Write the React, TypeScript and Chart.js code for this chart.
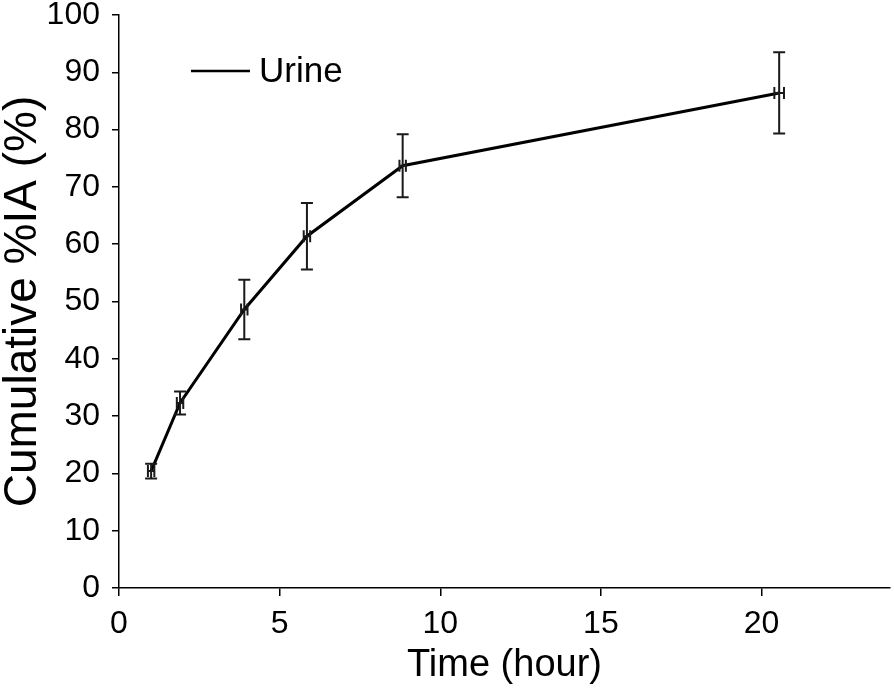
import React, { useEffect, useRef } from "react";
import { Chart, registerables } from "chart.js";

Chart.register(...registerables);

const timeHours = [1.0, 1.9, 3.9, 5.85, 8.83, 20.55];
const cumulativeIA = [20.4, 32.3, 48.6, 61.4, 73.7, 86.4];
const yError = [1.3, 2.0, 5.2, 5.8, 5.5, 7.1];
const xError = [0.1, 0.1, 0.1, 0.1, 0.1, 0.15];
const seriesLabel = "Urine";
const xTitle = "Time (hour)";
const yTitle = "Cumulative %IA (%)";

const FONT = "'Liberation Sans', Arial, sans-serif";

const errorBarPlugin = {
  id: "errorBars",
  afterDatasetsDraw(chart: any) {
    const ctx = chart.ctx;
    const xs = chart.scales.x;
    const ys = chart.scales.y;
    ctx.save();
    ctx.strokeStyle = "#1a1a1a";
    ctx.lineWidth = 2;
    const cap = 6;
    for (let i = 0; i < timeHours.length; i++) {
      const px = xs.getPixelForValue(timeHours[i]);
      const py = ys.getPixelForValue(cumulativeIA[i]);
      const top = ys.getPixelForValue(cumulativeIA[i] + yError[i]);
      const bot = ys.getPixelForValue(cumulativeIA[i] - yError[i]);
      const left = xs.getPixelForValue(timeHours[i] - xError[i]);
      const right = xs.getPixelForValue(timeHours[i] + xError[i]);
      ctx.beginPath();
      ctx.moveTo(px, top);
      ctx.lineTo(px, bot);
      ctx.moveTo(px - cap, top);
      ctx.lineTo(px + cap, top);
      ctx.moveTo(px - cap, bot);
      ctx.lineTo(px + cap, bot);
      ctx.moveTo(left, py);
      ctx.lineTo(right, py);
      ctx.moveTo(left, py - cap);
      ctx.lineTo(left, py + cap);
      ctx.moveTo(right, py - cap);
      ctx.lineTo(right, py + cap);
      ctx.stroke();
    }
    ctx.restore();
  },
};

const legendPlugin = {
  id: "innerLegend",
  afterDraw(chart: any) {
    const ctx = chart.ctx;
    ctx.save();
    ctx.strokeStyle = "#000";
    ctx.lineWidth = 2.5;
    ctx.beginPath();
    ctx.moveTo(191, 71);
    ctx.lineTo(250, 71);
    ctx.stroke();
    ctx.fillStyle = "#000";
    ctx.font = `35px ${FONT}`;
    ctx.textAlign = "left";
    ctx.textBaseline = "alphabetic";
    ctx.fillText(seriesLabel, 259, 82);
    ctx.restore();
  },
};

export default function App() {
  const ref = useRef<HTMLCanvasElement | null>(null);
  useEffect(() => {
    if (!ref.current) return;
    const points = timeHours.map((t, i) => ({ x: t, y: cumulativeIA[i] }));
    const chart = new Chart(ref.current, {
      type: "scatter",
      data: {
        datasets: [
          {
            label: seriesLabel,
            data: points,
            showLine: true,
            borderColor: "#000",
            backgroundColor: "#000",
            borderWidth: 3,
            pointRadius: 0,
            tension: 0,
          },
        ],
      },
      options: {
        animation: false,
        responsive: false,
        layout: { padding: { left: 0, right: 4, top: 0, bottom: 0 } },
        plugins: { legend: { display: false }, tooltip: { enabled: false } },
        scales: {
          x: {
            type: "linear",
            min: 0,
            max: 24,
            ticks: {
              stepSize: 5,
              includeBounds: false,
              color: "#000",
              font: { family: FONT, size: 32 },
              padding: 9,
              maxRotation: 0,
            },
            grid: { drawOnChartArea: false, drawTicks: true, tickLength: 8, color: "#000", lineWidth: 1.5 },
            border: { display: true, color: "#000", width: 1.5 },
            title: {
              display: true,
              text: xTitle,
              color: "#000",
              font: { family: FONT, size: 38 },
              padding: { top: 0, bottom: 4 },
            },
            afterFit: (s: any) => {
              s.height = 104;
              s.paddingLeft = 0;
              s.paddingRight = 0;
            },
          },
          y: {
            type: "linear",
            min: 0,
            max: 100,
            ticks: {
              stepSize: 10,
              color: "#000",
              font: { family: FONT, size: 32 },
              padding: 12,
            },
            grid: { drawOnChartArea: false, drawTicks: true, tickLength: 7, color: "#000", lineWidth: 1.5 },
            border: { display: true, color: "#000", width: 1.5 },
            title: {
              display: true,
              text: yTitle,
              color: "#000",
              font: { family: FONT, size: 46, lineHeight: 1 },
              padding: { top: 0, bottom: 0 },
            },
            afterFit: (s: any) => {
              s.width = 119;
              s.paddingTop = 15;
              s.paddingBottom = 0;
            },
          },
        },
      },
      plugins: [errorBarPlugin, legendPlugin],
    });
    return () => chart.destroy();
  }, []);
  return (
    <div style={{ position: "fixed", left: 0, top: 0, width: 894, height: 692, background: "#fff" }}>
      <canvas ref={ref} width={894} height={692} />
    </div>
  );
}
